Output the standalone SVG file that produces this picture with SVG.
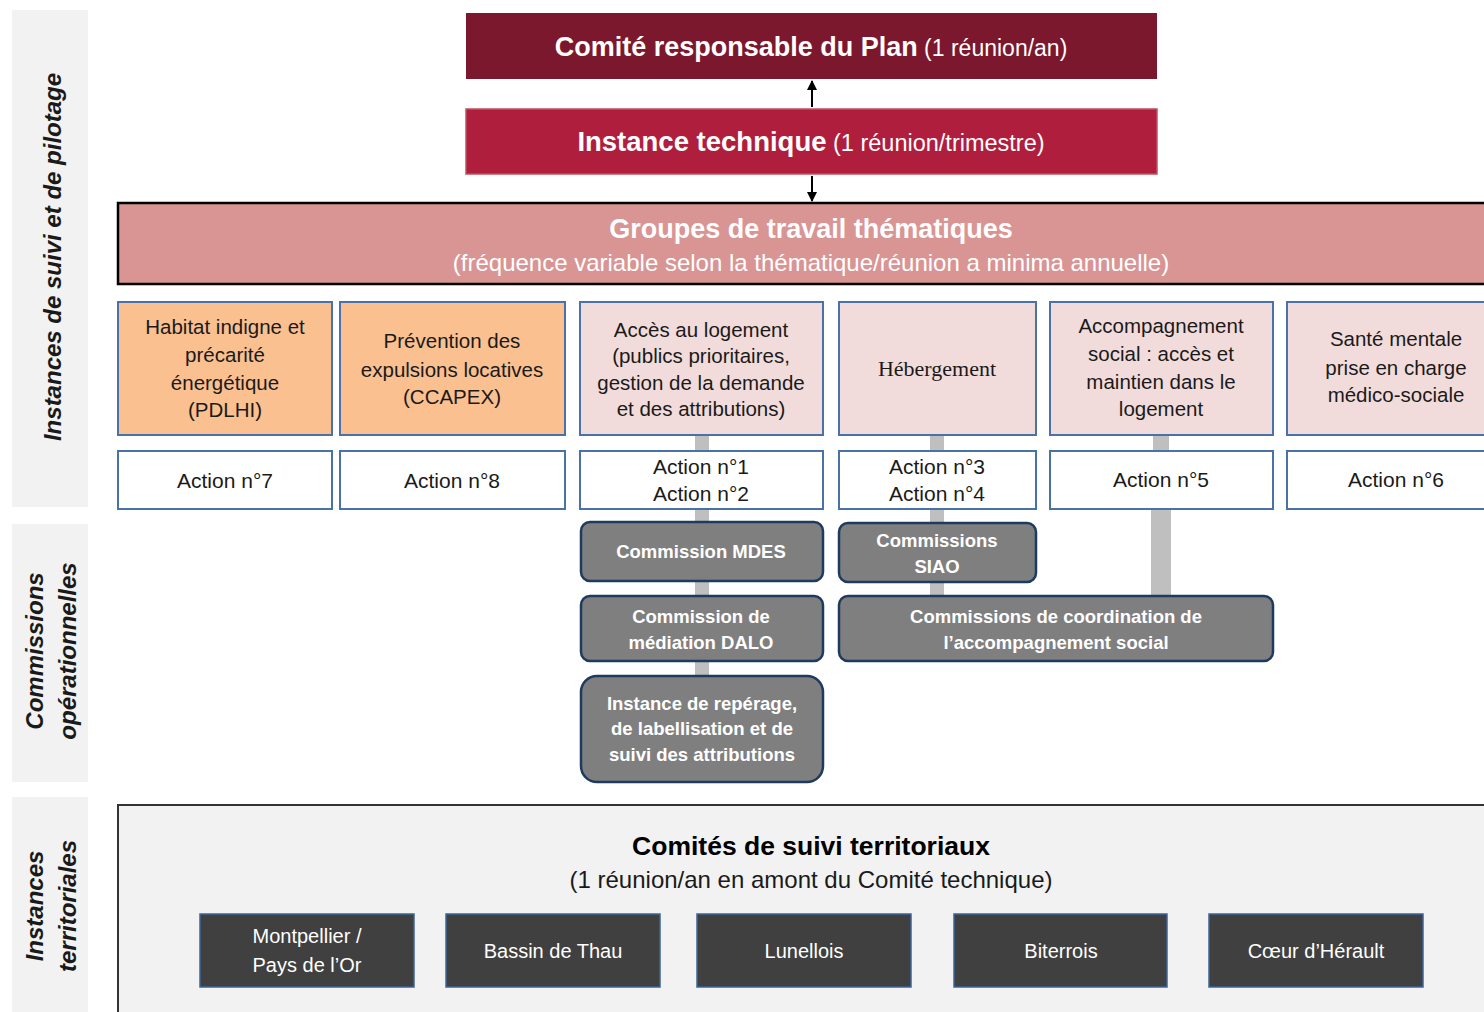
<svg xmlns="http://www.w3.org/2000/svg" width="1484" height="1012" viewBox="0 0 1484 1012">
<defs>
<style>
text{font-family:"Liberation Sans",Arial,sans-serif;text-anchor:middle}
.side{fill:#f2f2f2}
.sidet{font-size:24px;font-style:italic;font-weight:bold;fill:#1a1a1a}
.wt{fill:#fff}
.theme{stroke:#4a72a8;stroke-width:2}
.orange{fill:#fac090}
.pink{fill:#f2dcdb}
.tt{font-size:20.5px;fill:#1a1a1a}
.act{fill:#fff;stroke:#4a72a8;stroke-width:2}
.at{font-size:21px;fill:#1a1a1a}
.com{fill:#7f7f7f;stroke:#1f3a60;stroke-width:2.5}
.ct{font-size:18.5px;font-weight:bold;fill:#fff}
.terr{fill:#404040;stroke:#3d6598;stroke-width:1.5}
.trt{font-size:20px;fill:#fff}
.conn{stroke:#bfbfbf;fill:none}
</style>
<marker id="ah" viewBox="0 0 10 10" refX="9" refY="5" markerWidth="5" markerHeight="5" orient="auto-start-reverse">
<path d="M0,0 L10,5 L0,10 z" fill="#000"/>
</marker>
</defs>
<rect width="1484" height="1012" fill="#fff"/>

<g id="side-labels">
<rect class="side" x="12" y="10" width="76" height="497"/>
<text class="sidet" transform="translate(61,257) rotate(-90)">Instances de suivi et de pilotage</text>
<rect class="side" x="12" y="524" width="76" height="258"/>
<text class="sidet" transform="translate(43,651) rotate(-90)">Commissions</text>
<text class="sidet" transform="translate(76,651) rotate(-90)">opérationnelles</text>
<rect class="side" x="12" y="797" width="76" height="215"/>
<text class="sidet" transform="translate(43,906) rotate(-90)">Instances</text>
<text class="sidet" transform="translate(76,906) rotate(-90)">territoriales</text>
</g>

<g id="connectors">
<line x1="812" y1="107" x2="812" y2="81" stroke="#000" stroke-width="2" marker-end="url(#ah)"/>
<line x1="812" y1="176" x2="812" y2="201" stroke="#000" stroke-width="2" marker-end="url(#ah)"/>
<line class="conn" x1="702" y1="435" x2="702" y2="451" stroke-width="14"/>
<line class="conn" x1="702" y1="509" x2="702" y2="522" stroke-width="14"/>
<line class="conn" x1="702" y1="581" x2="702" y2="596" stroke-width="14"/>
<line class="conn" x1="702" y1="661" x2="702" y2="676" stroke-width="14"/>
<line class="conn" x1="937" y1="435" x2="937" y2="451" stroke-width="14"/>
<line class="conn" x1="937" y1="509" x2="937" y2="523" stroke-width="14"/>
<line class="conn" x1="937" y1="582" x2="937" y2="596" stroke-width="14"/>
<line class="conn" x1="1161" y1="435" x2="1161" y2="451" stroke-width="16"/>
<line class="conn" x1="1161" y1="509" x2="1161" y2="596" stroke-width="20"/>
</g>

<g id="comite">
<rect x="466" y="13" width="691" height="66" fill="#7b182d"/>
<text x="811" y="56" class="wt" style="font-size:27px"><tspan font-weight="bold">Comité responsable du Plan</tspan><tspan style="font-size:23px"> (1 réunion/an)</tspan></text>
</g>
<g id="instance-technique">
<rect x="466" y="109" width="691" height="65" fill="#b01e3e" stroke="#c0505f" stroke-width="1.5"/>
<text x="811" y="151" class="wt" style="font-size:27.5px"><tspan font-weight="bold">Instance technique</tspan><tspan style="font-size:23.5px"> (1 réunion/trimestre)</tspan></text>
</g>
<g id="groupes">
<rect x="118" y="203" width="1380" height="81" fill="#d99594" stroke="#000" stroke-width="2.5"/>
<text x="811" y="238" class="wt" style="font-size:27px;font-weight:bold">Groupes de travail thématiques</text>
<text x="811" y="271" class="wt" style="font-size:24px">(fréquence variable selon la thématique/réunion a minima annuelle)</text>
</g>

<g id="theme-habitat">
<rect class="theme orange" x="118" y="302" width="214" height="133"/>
<text class="tt" x="225" y="334">Habitat indigne et</text>
<text class="tt" x="225" y="362">précarité</text>
<text class="tt" x="225" y="390">énergétique</text>
<text class="tt" x="225" y="417">(PDLHI)</text>
</g>
<g id="theme-prevention">
<rect class="theme orange" x="340" y="302" width="225" height="133"/>
<text class="tt" x="452" y="348">Prévention des</text>
<text class="tt" x="452" y="377">expulsions locatives</text>
<text class="tt" x="452" y="404">(CCAPEX)</text>
</g>
<g id="theme-acces">
<rect class="theme pink" x="580" y="302" width="243" height="133"/>
<text class="tt" x="701" y="337">Accès au logement</text>
<text class="tt" x="701" y="363">(publics prioritaires,</text>
<text class="tt" x="701" y="390">gestion de la demande</text>
<text class="tt" x="701" y="416">et des attributions)</text>
</g>
<g id="theme-hebergement">
<rect class="theme pink" x="839" y="302" width="197" height="133"/>
<text x="937" y="376" style="font-family:'Liberation Serif','Times New Roman',serif;font-size:22px;fill:#1a1a1a">Hébergement</text>
</g>
<g id="theme-accompagnement">
<rect class="theme pink" x="1050" y="302" width="223" height="133"/>
<text class="tt" x="1161" y="333">Accompagnement</text>
<text class="tt" x="1161" y="361">social : accès et</text>
<text class="tt" x="1161" y="389">maintien dans le</text>
<text class="tt" x="1161" y="416">logement</text>
</g>
<g id="theme-sante">
<rect class="theme pink" x="1287" y="302" width="210" height="133"/>
<text class="tt" x="1396" y="346">Santé mentale</text>
<text class="tt" x="1396" y="375">prise en charge</text>
<text class="tt" x="1396" y="402">médico-sociale</text>
</g>

<g id="action-7">
<rect class="act" x="118" y="451" width="214" height="58"/>
<text class="at" x="225" y="488">Action n°7</text>
</g>
<g id="action-8">
<rect class="act" x="340" y="451" width="225" height="58"/>
<text class="at" x="452" y="488">Action n°8</text>
</g>
<g id="action-1-2">
<rect class="act" x="580" y="451" width="243" height="58"/>
<text class="at" x="701" y="474">Action n°1</text>
<text class="at" x="701" y="501">Action n°2</text>
</g>
<g id="action-3-4">
<rect class="act" x="839" y="451" width="197" height="58"/>
<text class="at" x="937" y="474">Action n°3</text>
<text class="at" x="937" y="501">Action n°4</text>
</g>
<g id="action-5">
<rect class="act" x="1050" y="451" width="223" height="58"/>
<text class="at" x="1161" y="487">Action n°5</text>
</g>
<g id="action-6">
<rect class="act" x="1287" y="451" width="210" height="58"/>
<text class="at" x="1396" y="487">Action n°6</text>
</g>

<g id="commission-mdes">
<rect class="com" x="581" y="522" width="242" height="59" rx="9"/>
<text class="ct" x="701" y="558">Commission MDES</text>
</g>
<g id="commissions-siao">
<rect class="com" x="839" y="523" width="197" height="59" rx="9"/>
<text class="ct" x="937" y="547">Commissions</text>
<text class="ct" x="937" y="573">SIAO</text>
</g>
<g id="commission-dalo">
<rect class="com" x="581" y="596" width="242" height="65" rx="9"/>
<text class="ct" x="701" y="623">Commission de</text>
<text class="ct" x="701" y="649">médiation DALO</text>
</g>
<g id="commissions-coordination">
<rect class="com" x="839" y="596" width="434" height="65" rx="9"/>
<text class="ct" x="1056" y="623">Commissions de coordination de</text>
<text class="ct" x="1056" y="649">l’accompagnement social</text>
</g>
<g id="instance-reperage">
<rect class="com" x="581" y="676" width="242" height="106" rx="16"/>
<text class="ct" x="702" y="710">Instance de repérage,</text>
<text class="ct" x="702" y="735">de labellisation et de</text>
<text class="ct" x="702" y="761">suivi des attributions</text>
</g>

<g id="comites-territoriaux">
<rect x="118" y="805" width="1380" height="220" fill="#f2f2f2" stroke="#333" stroke-width="2"/>
<text x="811" y="855" style="font-size:26.5px;font-weight:bold;fill:#000">Comités de suivi territoriaux</text>
<text x="811" y="888" style="font-size:24px;fill:#1a1a1a">(1 réunion/an en amont du Comité technique)</text>
</g>
<g id="terr-montpellier">
<rect class="terr" x="200" y="914" width="214" height="73"/>
<text class="trt" x="307" y="943">Montpellier /</text>
<text class="trt" x="307" y="972">Pays de l’Or</text>
</g>
<g id="terr-thau">
<rect class="terr" x="446" y="914" width="214" height="73"/>
<text class="trt" x="553" y="958">Bassin de Thau</text>
</g>
<g id="terr-lunellois">
<rect class="terr" x="697" y="914" width="214" height="73"/>
<text class="trt" x="804" y="958">Lunellois</text>
</g>
<g id="terr-biterrois">
<rect class="terr" x="954" y="914" width="213" height="73"/>
<text class="trt" x="1061" y="958">Biterrois</text>
</g>
<g id="terr-coeur">
<rect class="terr" x="1209" y="914" width="214" height="73"/>
<text class="trt" x="1316" y="958">Cœur d’Hérault</text>
</g>
</svg>
